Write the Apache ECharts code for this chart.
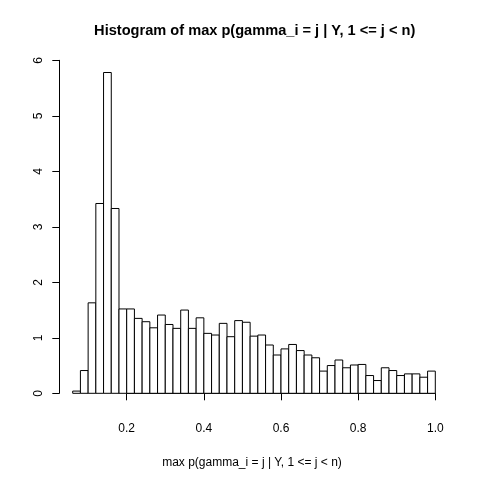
<!DOCTYPE html>
<html><head><meta charset="utf-8">
<script src="https://cdn.jsdelivr.net/npm/echarts@6/dist/echarts.min.js"></script>
<style>html,body{margin:0;padding:0;background:#fff}#c{width:480px;height:480px}</style>
</head><body><div id="c"></div>
<script>
const binLeft = [0.06,0.08,0.10,0.12,0.14,0.16,0.18,0.20,0.22,0.24,0.26,0.28,0.30,0.32,0.34,0.36,0.38,0.40,0.42,0.44,0.46,0.48,0.50,0.52,0.54,0.56,0.58,0.60,0.62,0.64,0.66,0.68,0.70,0.72,0.74,0.76,0.78,0.80,0.82,0.84,0.86,0.88,0.90,0.92,0.94,0.96,0.98];
const binRight = [0.08,0.10,0.12,0.14,0.16,0.18,0.20,0.22,0.24,0.26,0.28,0.30,0.32,0.34,0.36,0.38,0.40,0.42,0.44,0.46,0.48,0.50,0.52,0.54,0.56,0.58,0.60,0.62,0.64,0.66,0.68,0.70,0.72,0.74,0.76,0.78,0.80,0.82,0.84,0.86,0.88,0.90,0.92,0.94,0.96,0.98,1.00];
const density = [0.04,0.41,1.63,3.42,5.78,3.33,1.52,1.52,1.35,1.29,1.18,1.41,1.24,1.17,1.50,1.17,1.36,1.08,1.05,1.26,1.02,1.31,1.28,1.03,1.05,0.87,0.69,0.80,0.88,0.77,0.69,0.64,0.40,0.50,0.60,0.46,0.51,0.52,0.32,0.23,0.46,0.41,0.32,0.35,0.35,0.29,0.40];
const xTickLabels = ['0.2','0.4','0.6','0.8','1.0'];
const yTickLabels = ['0','1','2','3','4','5','6'];
const titleText = 'Histogram of max p(gamma_i = j | Y, 1 <= j < n)';
const xAxisTitle = 'max p(gamma_i = j | Y, 1 <= j < n)';

const chart = echarts.init(document.getElementById('c'), null, {renderer:'canvas'});
const font = '"Liberation Sans", Arial, Helvetica, sans-serif';
const data = binLeft.map((l,i)=>[l, binRight[i], density[i]]);
chart.setOption({
  animation:false,
  backgroundColor:'#fff',
  grid:{left:126.7, right:44.7, top:60.3, bottom:86.7, containLabel:false},
  xAxis:{type:'value', min:0.2, max:1.0, interval:0.2, offset:13.7,
    axisLine:{show:true, lineStyle:{color:'#000', width:1}},
    axisTick:{show:true, length:7, inside:false, lineStyle:{color:'#000'}},
    axisLabel:{color:'#000', fontSize:12, fontFamily:font, margin:16,
      formatter:(v)=>{const i=Math.round((v-0.2)/0.2); return xTickLabels[i]??'';}},
    splitLine:{show:false}},
  yAxis:{type:'value', min:0, max:6, interval:1, offset:67.4,
    axisLine:{show:true, lineStyle:{color:'#000', width:1}},
    axisTick:{show:true, length:7, lineStyle:{color:'#000'}},
    axisLabel:{color:'#000', fontSize:12, fontFamily:font, margin:15, rotate:90,
      formatter:(v)=>yTickLabels[Math.round(v)]??''},
    splitLine:{show:false}},
  graphic:[
    {type:'text', x:254.7, y:31, style:{text:titleText, font:'bold 14.6px '+font, fill:'#000', textAlign:'center', textVerticalAlign:'middle'}},
    {type:'text', x:252, y:463, style:{text:xAxisTitle, font:'12px '+font, fill:'#000', textAlign:'center', textVerticalAlign:'middle'}}
  ],
  series:[{
    type:'custom', clip:false, data:data,
    encode:{x:[0,1], y:2},
    renderItem:(params, api)=>{
      const p0 = api.coord([api.value(0), 0]);
      const p1 = api.coord([api.value(1), api.value(2)]);
      return {type:'rect', shape:{x:p0[0], y:p1[1], width:p1[0]-p0[0], height:p0[1]-p1[1]},
        style:{fill:'#fff', stroke:'#000', lineWidth:1}};
    }
  }]
});
</script></body></html>
